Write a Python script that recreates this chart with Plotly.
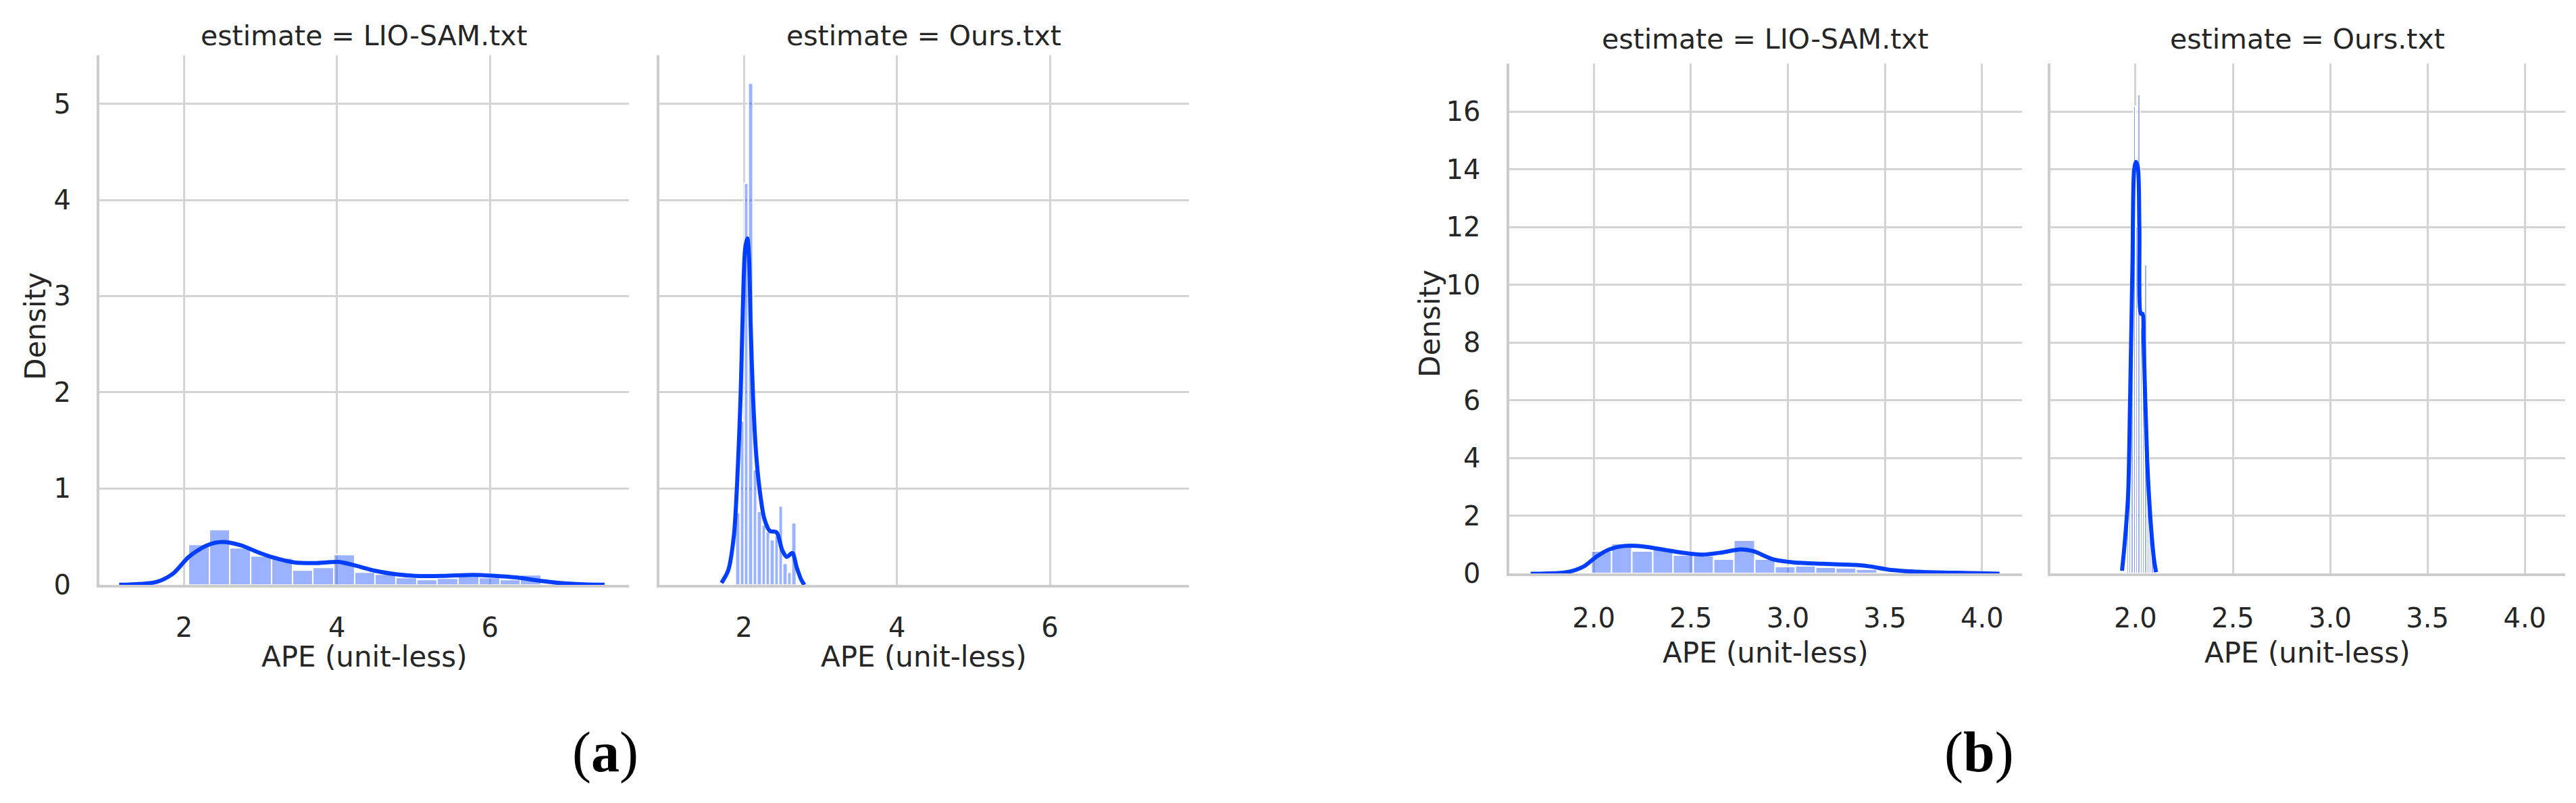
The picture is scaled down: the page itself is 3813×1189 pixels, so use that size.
import plotly.graph_objects as go

# (a) LIO-SAM histogram: bin edges and densities
a_lio_edges = [2.057, 2.328, 2.600, 2.871, 3.143, 3.414, 3.686, 3.957, 4.228, 4.500,
               4.771, 5.043, 5.314, 5.585, 5.857, 6.128, 6.400, 6.671]
a_lio_dens = [0.42, 0.575, 0.38, 0.30, 0.28, 0.152, 0.18, 0.313, 0.133, 0.106,
              0.076, 0.053, 0.064, 0.087, 0.076, 0.053, 0.103]
# (a) LIO-SAM KDE
a_lio_kde_x = [1.15, 1.64, 1.86, 2.06, 2.30, 2.50, 2.74, 2.96, 3.18, 3.44, 3.71, 4.02,
               4.24, 4.50, 4.77, 5.03, 5.38, 5.78, 6.04, 6.35, 6.66, 6.92, 7.23, 7.50]
a_lio_kde_y = [0.0, 0.03, 0.12, 0.29, 0.41, 0.444, 0.41, 0.34, 0.28, 0.232, 0.225, 0.237,
               0.20, 0.145, 0.11, 0.092, 0.092, 0.103, 0.094, 0.076, 0.041, 0.018, 0.005, 0.0]

# (a) Ours histogram
a_ours_edges = [1.890, 1.946, 2.003, 2.059, 2.116, 2.172, 2.229, 2.285, 2.341, 2.398,
                2.454, 2.511, 2.567, 2.623, 2.680]
a_ours_dens = [0.75, 1.7, 4.17, 5.21, 1.2, 0.76, 0.62, 0.55, 0.47, 0.51, 0.82, 0.22, 0.13, 0.64]
# (a) Ours KDE
a_ours_kde_x = [1.706, 1.794, 1.868, 1.91, 1.956, 1.985, 2.015, 2.044, 2.065, 2.088, 2.118,
                2.16, 2.206, 2.265, 2.338, 2.426, 2.50, 2.56, 2.632, 2.69, 2.75, 2.79]
a_ours_kde_y = [0.02, 0.15, 0.51, 1.05, 1.96, 2.87, 3.49, 3.60, 3.42, 2.69, 1.96,
                1.35, 0.98, 0.69, 0.56, 0.545, 0.36, 0.29, 0.33, 0.18, 0.05, 0.0]

# (b) LIO-SAM histogram
b_lio_edges = [1.988, 2.093, 2.198, 2.303, 2.408, 2.513, 2.618, 2.723, 2.828, 2.933,
               3.038, 3.143, 3.248, 3.353, 3.458, 3.563, 3.668, 3.773, 3.878, 3.983, 4.088]
b_lio_dens = [0.77, 1.04, 0.79, 0.85, 0.65, 0.61, 0.49, 1.16, 0.49, 0.24,
              0.27, 0.23, 0.20, 0.16, 0.05, 0.03, 0.02, 0.02, 0.01, 0.01]
# (b) LIO-SAM KDE
b_lio_kde_x = [1.675, 1.86, 1.946, 2.014, 2.08, 2.157, 2.25, 2.352, 2.453, 2.555, 2.656,
               2.757, 2.825, 2.926, 3.028, 3.18, 3.35, 3.434, 3.518, 3.687, 3.856, 4.025, 4.09]
b_lio_kde_y = [0.0, 0.05, 0.24, 0.59, 0.84, 0.96, 0.945, 0.84, 0.73, 0.66, 0.73,
               0.84, 0.77, 0.49, 0.39, 0.34, 0.30, 0.24, 0.14, 0.06, 0.03, 0.01, 0.0]

# (b) Ours histogram
b_ours_edges = [1.954, 1.965, 1.977, 1.989, 2.000, 2.012, 2.023, 2.035, 2.046, 2.058,
                2.069, 2.081, 2.093, 2.104]
b_ours_dens = [2.7, 4.5, 9.5, 16.2, 12.0, 16.6, 8.5, 7.0, 10.7, 4.5, 2.5, 1.2, 0.5]
# (b) Ours KDE
b_ours_kde_x = [1.931, 1.945, 1.962, 1.973, 1.985, 1.993, 2.002, 2.012, 2.020, 2.028,
                2.036, 2.042, 2.060, 2.077, 2.095, 2.106]
b_ours_kde_y = [0.1, 1.08, 2.69, 6.26, 10.86, 13.97, 14.26, 14.09, 12.0, 9.0,
                9.0, 8.0, 3.96, 1.89, 0.5, 0.05]

panel_titles = ["estimate = LIO-SAM.txt", "estimate = Ours.txt",
                "estimate = LIO-SAM.txt", "estimate = Ours.txt"]

BLUE = "#023eff"
HIST = "rgba(2,62,255,0.4)"
GRID = "#d4d4d4"
TXT = "#262626"
FONT = "DejaVu Sans"
W, H = 3813, 1189

fig = go.Figure()


def add_hist(edges, dens, n):
    centers = [(edges[i] + edges[i + 1]) / 2 for i in range(len(dens))]
    widths = [edges[i + 1] - edges[i] for i in range(len(dens))]
    fig.add_trace(go.Bar(x=centers, y=dens, width=widths,
                         marker=dict(color=HIST, line=dict(color="white", width=2)),
                         xaxis=f"x{n}", yaxis=f"y{n}", showlegend=False))


def add_kde(xs, ys, n):
    fig.add_trace(go.Scatter(x=xs, y=ys, mode="lines",
                             line=dict(color=BLUE, width=6, shape="spline", smoothing=0.8),
                             xaxis=f"x{n}", yaxis=f"y{n}", showlegend=False))


add_hist(a_lio_edges, a_lio_dens, 1)
add_kde(a_lio_kde_x, a_lio_kde_y, 1)
add_hist(a_ours_edges, a_ours_dens, 2)
add_kde(a_ours_kde_x, a_ours_kde_y, 2)
add_hist(b_lio_edges, b_lio_dens, 3)
add_kde(b_lio_kde_x, b_lio_kde_y, 3)
add_hist(b_ours_edges, b_ours_dens, 4)
add_kde(b_ours_kde_x, b_ours_kde_y, 4)

# Panel geometry in pixels (left, right, top, bottom)
boxes = [(139, 923, 75.8, 874.8), (967.6, 1752, 75.8, 874.8),
         (2225.5, 2985, 87.7, 858), (3027, 3788.6, 87.7, 858)]
xranges = [[0.89, 7.82], [0.89, 7.82], [1.563, 4.206], [1.563, 4.206]]
yranges = [[0, 5.5], [0, 5.5], [0, 17.67], [0, 17.67]]
xticks = [[2, 4, 6], [2, 4, 6], [2.0, 2.5, 3.0, 3.5, 4.0], [2.0, 2.5, 3.0, 3.5, 4.0]]
yticks = [[0, 1, 2, 3, 4, 5], [0, 1, 2, 3, 4, 5],
          [0, 2, 4, 6, 8, 10, 12, 14, 16], [0, 2, 4, 6, 8, 10, 12, 14, 16]]

axis_common = dict(showgrid=True, gridcolor=GRID, gridwidth=3, zeroline=False,
                   showline=True, linecolor="#cccccc", linewidth=4, ticks="",
                   tickfont=dict(family=FONT, size=40, color=TXT))

layout = {}
annotations = []
for i, (l, r, t, b) in enumerate(boxes):
    n = i + 1
    xk = "xaxis" if n == 1 else f"xaxis{n}"
    yk = "yaxis" if n == 1 else f"yaxis{n}"
    fmt = ".1f" if n > 2 else "d"
    layout[xk] = dict(axis_common, domain=[l / W, r / W], range=xranges[i],
                      tickvals=xticks[i], tickformat=fmt, anchor=f"y{n}",
                      ticklabelstandoff=25 if n <= 2 else 28)
    layout[yk] = dict(axis_common, domain=[1 - b / H, 1 - t / H], range=yranges[i],
                      tickvals=yticks[i], anchor=f"x{n}",
                      showticklabels=(n % 2 == 1), ticklabelstandoff=30)
    cx = (l + r) / 2
    ty = 45.6 if n <= 2 else 50.5
    annotations.append(dict(text=panel_titles[i], x=cx / W, y=1 - ty / H,
                            xref="paper", yref="paper", showarrow=False,
                            xanchor="center", yanchor="middle",
                            font=dict(family=FONT, size=41, color=TXT)))
    ly = 984 if n <= 2 else 977
    annotations.append(dict(text="APE (unit-less)", x=cx / W, y=1 - ly / H,
                            xref="paper", yref="paper", showarrow=False,
                            xanchor="center", yanchor="middle",
                            font=dict(family=FONT, size=42, color=TXT)))

# Density labels
for px, py in [(45, 484), (2109, 480)]:
    annotations.append(dict(text="Density", x=px / W, y=1 - py / H, textangle=-90,
                            xref="paper", yref="paper", showarrow=False,
                            xanchor="center", yanchor="middle",
                            font=dict(family=FONT, size=42, color=TXT)))

# Sub-figure labels
for lab, px in [("a", 888), ("b", 2921)]:
    annotations.append(dict(text=f"(<b>{lab}</b>)", x=px / W, y=1 - 1128 / H,
                            xref="paper", yref="paper", showarrow=False,
                            xanchor="center", yanchor="middle",
                            font=dict(family="Liberation Serif", size=84, color="black")))

fig.update_layout(width=W, height=H, margin=dict(l=0, r=0, t=0, b=0),
                  paper_bgcolor="white", plot_bgcolor="white",
                  barmode="overlay", bargap=0, annotations=annotations, **layout)

fig.write_html("out.html")
